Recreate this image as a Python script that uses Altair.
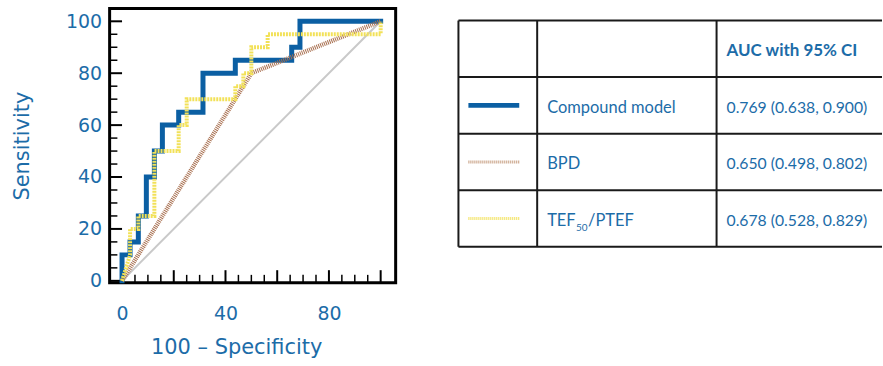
import altair as alt
import pandas as pd

# ---------------- data ----------------
compound_fpr = [0, 0, 3.1, 3.1, 6.3, 6.3, 9.4, 9.4, 12.5, 12.5, 15.6, 15.6, 21.9, 21.9,
                31.3, 31.3, 43.8, 43.8, 65.6, 65.6, 68.8, 68.8, 100]
compound_tpr = [0, 10, 10, 15, 15, 25, 25, 40, 40, 50, 50, 60, 60, 65,
                65, 80, 80, 85, 85, 90, 90, 100, 100]

bpd_fpr = [0, 50, 100]
bpd_tpr = [0, 80, 100]

tef_fpr = [0, 3.1, 3.1, 6.3, 6.3, 12.5, 12.5, 21.9, 21.9, 25, 25, 43.8, 43.8,
           46.9, 46.9, 50, 50, 56.3, 56.3, 100, 100]
tef_tpr = [0, 10, 20, 20, 25, 25, 50, 50, 60, 60, 70, 70, 75,
           75, 80, 80, 90, 90, 95, 95, 100]

chance_line = [0, 100]

x_labels = [0, 40, 80]
y_labels = [0, 20, 40, 60, 80, 100]
major_ticks = [0, 20, 40, 60, 80, 100]
minor_ticks = [5, 10, 15, 25, 30, 35, 45, 50, 55, 65, 70, 75, 85, 90, 95]

model_names = ["Compound model", "BPD", "TEF"]
tef_subscript = "50"
tef_rest = "/PTEF"
auc_values = ["0.769 (0.638, 0.900)", "0.650 (0.498, 0.802)", "0.678 (0.528, 0.829)"]
header_text = "AUC with 95% CI"

# ---------------- styles ----------------
BLUE = "#0b5fa3"
TXT = "#1c6ca8"
BROWN = "#a86f4f"
YELLOW = "#f2e158"
GREY = "#c9c9c9"
LINE = "#1a1a1a"
FONT = "DejaVu Sans"
TFONT = "Lato"

X_DOM = [-4.8, 105.8]
Y_DOM = [-0.7, 104.9]

xscale = alt.Scale(domain=X_DOM, nice=False, zero=False)
yscale = alt.Scale(domain=Y_DOM, nice=False, zero=False)

xaxis = alt.Axis(values=x_labels, ticks=False, domain=False, grid=False,
                 labelFont=FONT, labelFontSize=19, labelColor=TXT, labelPadding=22,
                 labelFlush=False, title="100 – Specificity", titleFont=FONT,
                 titleFontSize=21, titleFontWeight="normal", titleColor=TXT,
                 titleX=127, titleY=71, titleAlign="center", titleBaseline="alphabetic")
yaxis = alt.Axis(values=y_labels, ticks=False, domain=False, grid=False,
                 labelFont=FONT, labelFontSize=19, labelColor=TXT, labelPadding=8,
                 labelFlush=False, title="Sensitivity", titleFont=FONT, titleFontSize=21,
                 titleFontWeight="normal", titleColor=TXT, titlePadding=33)


def XF(f):
    return alt.X(f, type="quantitative", scale=xscale, axis=xaxis)


def YF(f):
    return alt.Y(f, type="quantitative", scale=yscale, axis=yaxis)


def curve(xs, ys):
    return pd.DataFrame({"x": xs, "y": ys, "i": list(range(len(xs)))})


diag = alt.Chart(curve(chance_line, chance_line)).mark_line(
    color=GREY, strokeWidth=2).encode(x=XF("x"), y=YF("y"), order="i:Q")
blue = alt.Chart(curve(compound_fpr, compound_tpr)).mark_line(
    color=BLUE, strokeWidth=5, strokeJoin="miter", strokeCap="square").encode(
    x=XF("x"), y=YF("y"), order="i:Q")
brown = alt.Chart(curve(bpd_fpr, bpd_tpr)).mark_line(
    color=BROWN, strokeWidth=4.5, strokeDash=[1, 1]).encode(x=XF("x"), y=YF("y"), order="i:Q")
yellow = alt.Chart(curve(tef_fpr, tef_tpr)).mark_line(
    color=YELLOW, strokeWidth=4, strokeDash=[2, 1], strokeJoin="miter").encode(
    x=XF("x"), y=YF("y"), order="i:Q")


def ytick_df(vals, length):
    return pd.DataFrame({"y": vals, "a": [X_DOM[0]] * len(vals), "b": [X_DOM[0] + length] * len(vals)})


def xtick_df(vals, length):
    return pd.DataFrame({"x": vals, "a": [Y_DOM[0]] * len(vals), "b": [Y_DOM[0] + length] * len(vals)})


ytick_major = alt.Chart(ytick_df(major_ticks, 4.8)).mark_rule(color="black", strokeWidth=2).encode(
    y=YF("y"), x=XF("a"), x2="b:Q")
ytick_minor = alt.Chart(ytick_df(minor_ticks, 3.0)).mark_rule(color="black", strokeWidth=1.5).encode(
    y=YF("y"), x=XF("a"), x2="b:Q")
xtick_major = alt.Chart(xtick_df(major_ticks, 4.8)).mark_rule(color="black", strokeWidth=2).encode(
    x=XF("x"), y=YF("a"), y2="b:Q")
xtick_minor = alt.Chart(xtick_df(minor_ticks, 3.0)).mark_rule(color="black", strokeWidth=1.5).encode(
    x=XF("x"), y=YF("a"), y2="b:Q")

roc = alt.layer(
    ytick_major, ytick_minor, xtick_major, xtick_minor, diag, blue, brown, yellow
).properties(width=287, height=275,
             view=alt.ViewBackground(stroke="black", strokeWidth=3))

# ---------------- table ----------------
col_scale = alt.Scale(domain=[0, 1, 2, 3], range=[0, 79, 259, 425], nice=False, zero=False)
row_scale = alt.Scale(domain=[0, 4], range=[12, 239], nice=False, zero=False)


def TX(f):
    return alt.X(f, type="quantitative", scale=col_scale, axis=None)


def TY(f):
    return alt.Y(f, type="quantitative", scale=row_scale, axis=None)


n = len(model_names)
rows = pd.DataFrame({"name": model_names, "auc": auc_values,
                     "r": [i + 1.5 for i in range(n)],
                     "c0": [0] * n, "c1": [1] * n, "c2": [2] * n})

hl = pd.DataFrame({"r": [0, 1, 2, 3, 4], "a": [0] * 5, "b": [3] * 5})
vl = pd.DataFrame({"c": [0, 1, 2], "a": [0] * 3, "b": [4] * 3})

hlines = alt.Chart(hl).mark_rule(color=LINE, strokeWidth=2).encode(
    y=TY("r"), x=TX("a"), x2="b:Q")
vlines = alt.Chart(vl).mark_rule(color=LINE, strokeWidth=2).encode(
    x=TX("c"), y=TY("a"), y2="b:Q")

header = alt.Chart(pd.DataFrame({"t": [header_text], "r": [0.5], "c": [2]})).mark_text(
    align="left", baseline="alphabetic", dx=10, dy=7, font=TFONT, fontSize=17,
    fontWeight="bold", color=TXT).encode(x=TX("c"), y=TY("r"), text="t:N")
names = alt.Chart(rows).mark_text(
    align="left", baseline="alphabetic", dx=10, dy=7.5, font=TFONT, fontSize=16.5,
    color=TXT).encode(x=TX("c1"), y=TY("r"), text="name:N")
aucs = alt.Chart(rows).mark_text(
    align="left", baseline="alphabetic", dx=10, dy=7.5, font=TFONT, fontSize=15.8,
    color=TXT).encode(x=TX("c2"), y=TY("r"), text="auc:N")
tef_row = rows.iloc[[2]]
sub = alt.Chart(tef_row.assign(t=tef_subscript)).mark_text(
    align="left", baseline="alphabetic", dx=39, dy=13, font=TFONT, fontSize=10,
    color=TXT).encode(x=TX("c1"), y=TY("r"), text="t:N")
rest = alt.Chart(tef_row.assign(t=tef_rest)).mark_text(
    align="left", baseline="alphabetic", dx=51, dy=7.5, font=TFONT, fontSize=16.5,
    color=TXT).encode(x=TX("c1"), y=TY("r"), text="t:N")

sw_blue = alt.Chart(rows.iloc[[0]]).mark_rule(
    color=BLUE, strokeWidth=5, xOffset=10, x2Offset=-18).encode(
    x=TX("c0"), x2="c1:Q", y=TY("r"))
sw_brown = alt.Chart(rows.iloc[[1]]).mark_rule(
    color="#c49a7c", strokeWidth=3, strokeDash=[1, 1], xOffset=10, x2Offset=-18).encode(
    x=TX("c0"), x2="c1:Q", y=TY("r"))
sw_yellow = alt.Chart(rows.iloc[[2]]).mark_rule(
    color=YELLOW, strokeWidth=3, strokeDash=[1, 1], xOffset=10, x2Offset=-18).encode(
    x=TX("c0"), x2="c1:Q", y=TY("r"))

table = alt.layer(
    hlines, vlines, header, names, aucs, sub, rest, sw_blue, sw_brown, sw_yellow
).properties(width=425, height=275, view=alt.ViewBackground(strokeOpacity=0))

chart = alt.hconcat(roc, table, spacing=63, bounds="flush").properties(
    padding={"left": 10, "top": 6, "right": 0, "bottom": 0}
).configure(font=FONT)

chart.save("out.html", embed_options={"renderer": "svg", "actions": False})
